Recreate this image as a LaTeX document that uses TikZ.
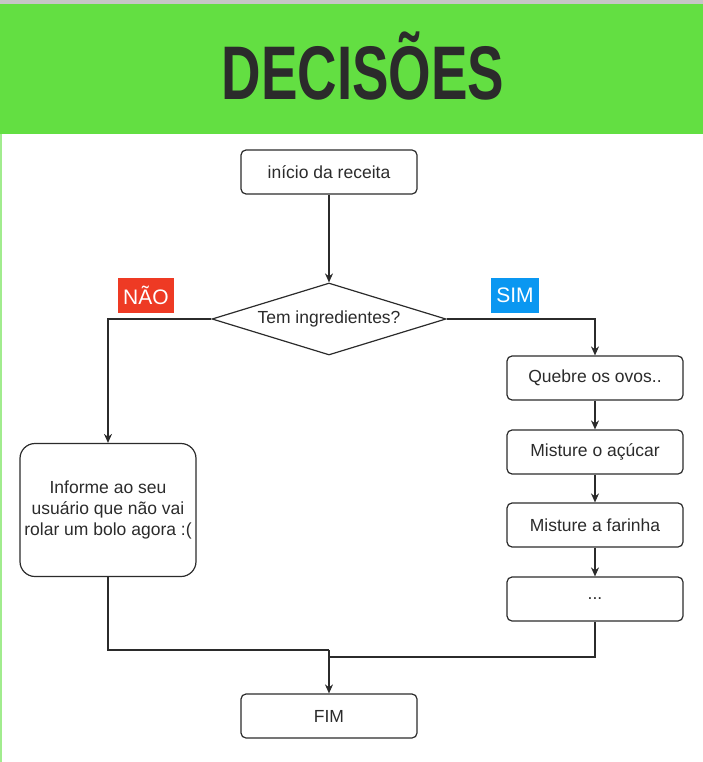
\documentclass[tikz,border=0pt]{standalone}
\usepackage{fontspec}
\setmainfont{Liberation Sans}
\usetikzlibrary{shapes.geometric,arrows.meta}
\definecolor{verde}{HTML}{63DF42}
\definecolor{vermelho}{HTML}{EE3A24}
\definecolor{azul}{HTML}{0A97F1}
\definecolor{traco}{HTML}{2B2B2B}
\tikzset{
  etapa/.style={draw=traco, line width=1.2pt, rounded corners=5pt, minimum width=176pt, minimum height=44pt, inner sep=0pt, font=\fontsize{17.5}{21}\selectfont, text=traco},
  seta/.style={draw=traco, line width=1.2pt, -{Stealth[length=9pt,width=8pt]}},
  linha/.style={draw=traco, line width=1.2pt},
  rotulo/.style={text=white, font=\fontsize{21}{24}\selectfont, minimum height=35pt, inner sep=5pt}
}
\begin{document}
\begin{tikzpicture}[x=1pt,y=-1pt]
\useasboundingbox (0,0) rectangle (703,762);
% faixa do titulo
\fill[gray!45] (0,0) rectangle (703,4);
\fill[verde] (0,4) rectangle (703,134);
\fill[verde!60] (0,134) rectangle (2,762);
\node[text=traco] (titulo) at (363,66) {\scalebox{0.72}[1]{\fontsize{76}{76}\selectfont\bfseries DECISÕES}};
% inicio e decisao
\node[etapa] (inicio) at (329,172) {início da receita};
\node[draw=traco, line width=1.2pt, shape=diamond, shape aspect=3.25, minimum width=234pt, minimum height=72pt, inner sep=0pt, font=\fontsize{17.5}{21}\selectfont, text=traco] (decisao) at (329,319) {Tem ingredientes?};
\node[rotulo, fill=vermelho] (nao) at (146,295) {NÃO};
\node[rotulo, fill=azul] (sim) at (515,295) {SIM};
% ramo do nao
\node[etapa, minimum height=133pt, rounded corners=15pt, align=center] (informe) at (108,510) {Informe ao seu\\usuário que não vai\\rolar um bolo agora :(};
% ramo do sim
\node[etapa] (quebre) at (595,378) {Quebre os ovos..};
\node[etapa] (acucar) at (595,452) {Misture o açúcar};
\node[etapa] (farinha) at (595,525) {Misture a farinha};
\node[etapa] (etc) at (595,599) {...};
\node[etapa] (fim) at (329,716) {FIM};
\coordinate (juncao) at (329,650);
\coordinate (juncaob) at (329,657);
% conectores
\draw[seta] (inicio) -- (decisao);
\draw[seta] (decisao.west) -| (informe.north);
\draw[seta] (decisao.east) -| (quebre.north);
\draw[seta] (quebre) -- (acucar);
\draw[seta] (acucar) -- (farinha);
\draw[seta] (farinha) -- (etc);
\draw[linha] (informe.south) |- (juncao);
\draw[linha] (etc.south) |- (juncaob);
\draw[seta] (juncao) -- (fim.north);
\end{tikzpicture}
\end{document}
